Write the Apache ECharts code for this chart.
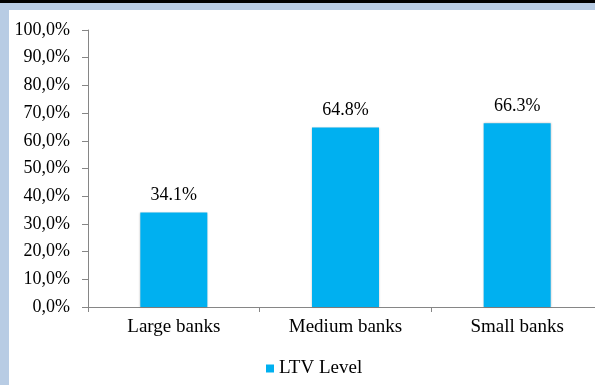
<!DOCTYPE html>
<html><head><meta charset="utf-8">
<script src="https://cdn.jsdelivr.net/npm/echarts@6/dist/echarts.min.js"></script>
<style>html,body{margin:0;padding:0;background:#fff;}#c{width:595px;height:385px;}</style>
</head><body><div id="c"></div>
<script>
const categories = ['Large banks', 'Medium banks', 'Small banks'];
const ltvValues = [34.1, 64.8, 66.3];
const seriesName = 'LTV Level';
const yTicks = {min: 0, max: 100, interval: 10};

const font = '"Liberation Serif", "Times New Roman", serif';
const chart = echarts.init(document.getElementById('c'), null, {renderer: 'canvas'});
chart.setOption({
  animation: false,
  backgroundColor: '#fff',
  graphic: [
    {type: 'rect', shape: {x: 0, y: 0, width: 595, height: 3}, style: {fill: '#000'}, z: 100},
    {type: 'rect', shape: {x: 0, y: 3, width: 595, height: 7}, style: {fill: '#b8cce4'}, z: 100},
    {type: 'rect', shape: {x: 0, y: 3, width: 9, height: 382}, style: {fill: '#b8cce4'}, z: 100}
  ],
  grid: {left: 88, top: 30, width: 515, height: 277, containLabel: false, outerBoundsMode: 'none'},
  legend: {
    data: [seriesName], left: 261, top: 354, itemWidth: 8, itemHeight: 8, itemGap: 5,
    icon: 'rect',
    textStyle: {fontFamily: font, fontSize: 19, color: '#000'}
  },
  xAxis: {
    type: 'category', data: categories,
    axisLine: {lineStyle: {color: '#868686', width: 1}},
    axisTick: {show: true, length: 5, lineStyle: {color: '#868686'}},
    axisLabel: {fontFamily: font, fontSize: 19, color: '#000', margin: 11}
  },
  yAxis: {
    type: 'value', min: yTicks.min, max: yTicks.max, interval: yTicks.interval,
    splitLine: {show: false},
    axisLine: {show: true, lineStyle: {color: '#868686', width: 1}},
    axisTick: {show: true, length: 6, lineStyle: {color: '#868686'}},
    axisLabel: {fontFamily: font, fontSize: 18, color: '#000', margin: 18,
      formatter: v => v.toFixed(1).replace('.', ',') + '%'}
  },
  series: [{
    name: seriesName, type: 'bar', data: ltvValues, barWidth: 67,
    itemStyle: {color: '#00b0f0', shadowColor: 'rgba(0,0,0,0.25)', shadowBlur: 2},
    label: {show: true, position: 'top', distance: 8, fontFamily: font, fontSize: 18, color: '#000',
      formatter: p => p.value.toFixed(1) + '%'}
  }]
});
</script></body></html>
